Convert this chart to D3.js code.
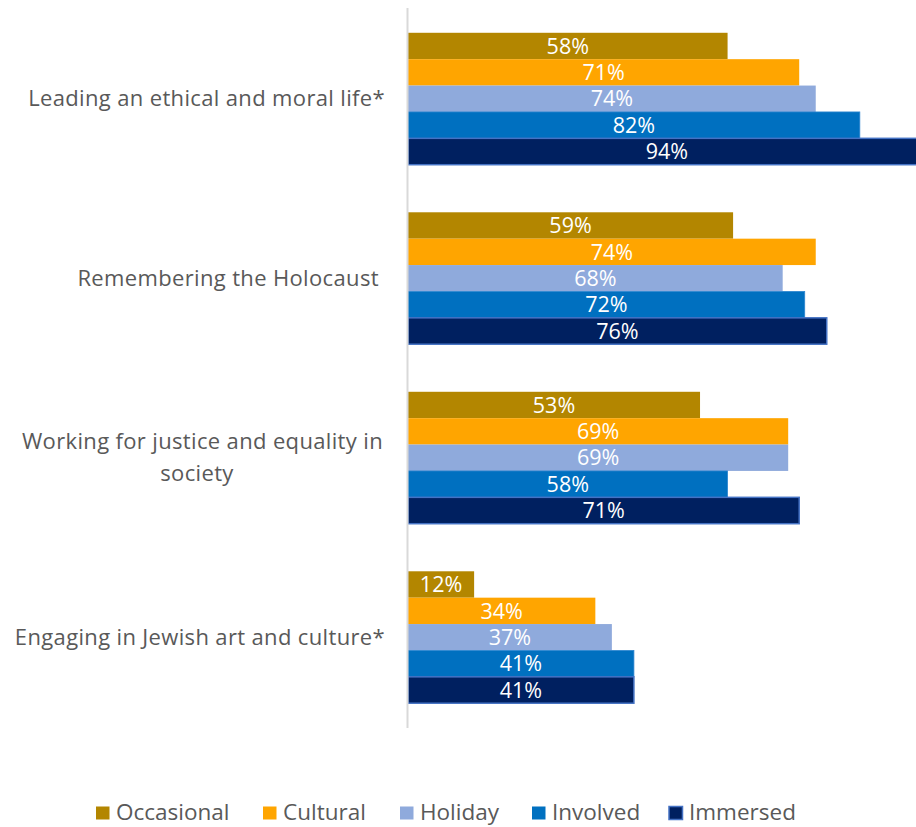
<!DOCTYPE html>
<html>
<head>
<meta charset="utf-8">
<script src="https://cdn.jsdelivr.net/npm/d3@7"></script>
<style>
  html, body { margin: 0; padding: 0; background: #fff; }
  svg { display: block; }
</style>
</head>
<body>
<svg id="chart" width="916" height="827"></svg>
<script>
// Share of each engagement group calling the item important
const categories = [
  ["Leading an ethical and moral life*"],
  ["Remembering the Holocaust "],
  ["Working for justice and equality in", "society"],
  ["Engaging in Jewish art and culture*"]
];
const seriesNames = ["Occasional", "Cultural", "Holiday", "Involved", "Immersed"];
const seriesColors = ["#B38600", "#FFA500", "#8FAADC", "#0070C0", "#002060"];
const occasional = [58, 59, 53, 12];
const cultural   = [71, 74, 69, 34];
const holiday    = [74, 68, 69, 37];
const involved   = [82, 72, 58, 41];
const immersed   = [94, 76, 71, 41];
const seriesValues = [occasional, cultural, holiday, involved, immersed];

const svg = d3.select("#chart");
const font = "'Open Sans', Lato, sans-serif";
const textColor = "#595959";

const x = d3.scaleLinear().domain([0, 100]).range([408, 959]);
const y = d3.scaleBand().domain(d3.range(categories.length)).range([9, 727]).paddingInner(0.265).paddingOuter(0.1325);
const ys = d3.scaleBand().domain(d3.range(seriesNames.length)).range([0, y.bandwidth()]);

// Bars
const groups = svg.append("g").selectAll("g")
  .data(categories.map((c, i) => i))
  .join("g")
  .attr("transform", i => `translate(0,${y(i)})`);

groups.each(function(ci) {
  const g = d3.select(this);
  const rows = seriesValues.map((vals, si) => ({ si, v: vals[ci] }));
  g.selectAll("rect")
    .data(rows)
    .join("rect")
    .attr("x", x(0))
    .attr("y", d => ys(d.si))
    .attr("width", d => x(d.v) - x(0))
    .attr("height", ys.bandwidth())
    .attr("fill", d => seriesColors[d.si])
    .attr("stroke", d => d.si === 4 ? "#4472C4" : (d.si === 3 ? "#2E86D0" : "none"))
    .attr("stroke-width", d => d.si === 4 ? 1.5 : 0.8);
  g.selectAll("text")
    .data(rows)
    .join("text")
    .attr("x", d => (x(d.v) + x(0)) / 2)
    .attr("y", d => ys(d.si) + ys.bandwidth() / 2)
    .attr("dy", "0.36em")
    .attr("text-anchor", "middle")
    .attr("fill", "#fff")
    .style("font-family", font)
    .style("font-size", "21.5px")
    .text(d => d.v + "%");
});

// Vertical category axis line
svg.append("line")
  .attr("x1", x(0) - 0.5).attr("x2", x(0) - 0.5)
  .attr("y1", 8).attr("y2", 728)
  .attr("stroke", "#D9D9D9").attr("stroke-width", 2);

// Category labels
const labels = svg.append("g").selectAll("text")
  .data(categories)
  .join("text")
  .attr("fill", textColor)
  .style("font-family", font)
  .style("font-size", "22px")
  .style("letter-spacing", "0.35px")
  .style("white-space", "pre");

labels.each(function(lines, i) {
  const t = d3.select(this);
  const cy = y(i) + y.bandwidth() / 2;
  const lh = 32;
  const y0 = cy - (lines.length - 1) * lh / 2;
  if (lines.length === 1) {
    t.append("tspan").attr("x", 385).attr("y", y0).attr("dy", "0.35em")
      .attr("text-anchor", "end").text(lines[0]);
  } else {
    lines.forEach((ln, k) => {
      t.append("tspan")
        .attr("x", k === 0 ? 383 : 197)
        .attr("y", y0 + k * lh).attr("dy", "0.35em")
        .attr("text-anchor", k === 0 ? "end" : "middle")
        .text(ln);
    });
  }
});

// Legend
const legendX = [96, 263, 400, 532, 669];
const legend = svg.append("g").selectAll("g")
  .data(seriesNames)
  .join("g")
  .attr("transform", (d, i) => `translate(${legendX[i]},813)`);
legend.append("rect")
  .attr("x", 0).attr("y", -6.5).attr("width", 13.5).attr("height", 13)
  .attr("fill", (d, i) => seriesColors[i])
  .attr("stroke", (d, i) => i === 4 ? "#4472C4" : "none")
  .attr("stroke-width", 1.5);
legend.append("text")
  .attr("x", 20).attr("y", -1).attr("dy", "0.36em")
  .attr("fill", textColor)
  .style("font-family", font)
  .style("font-size", "22.5px")
  .text(d => d);
</script>
</body>
</html>
